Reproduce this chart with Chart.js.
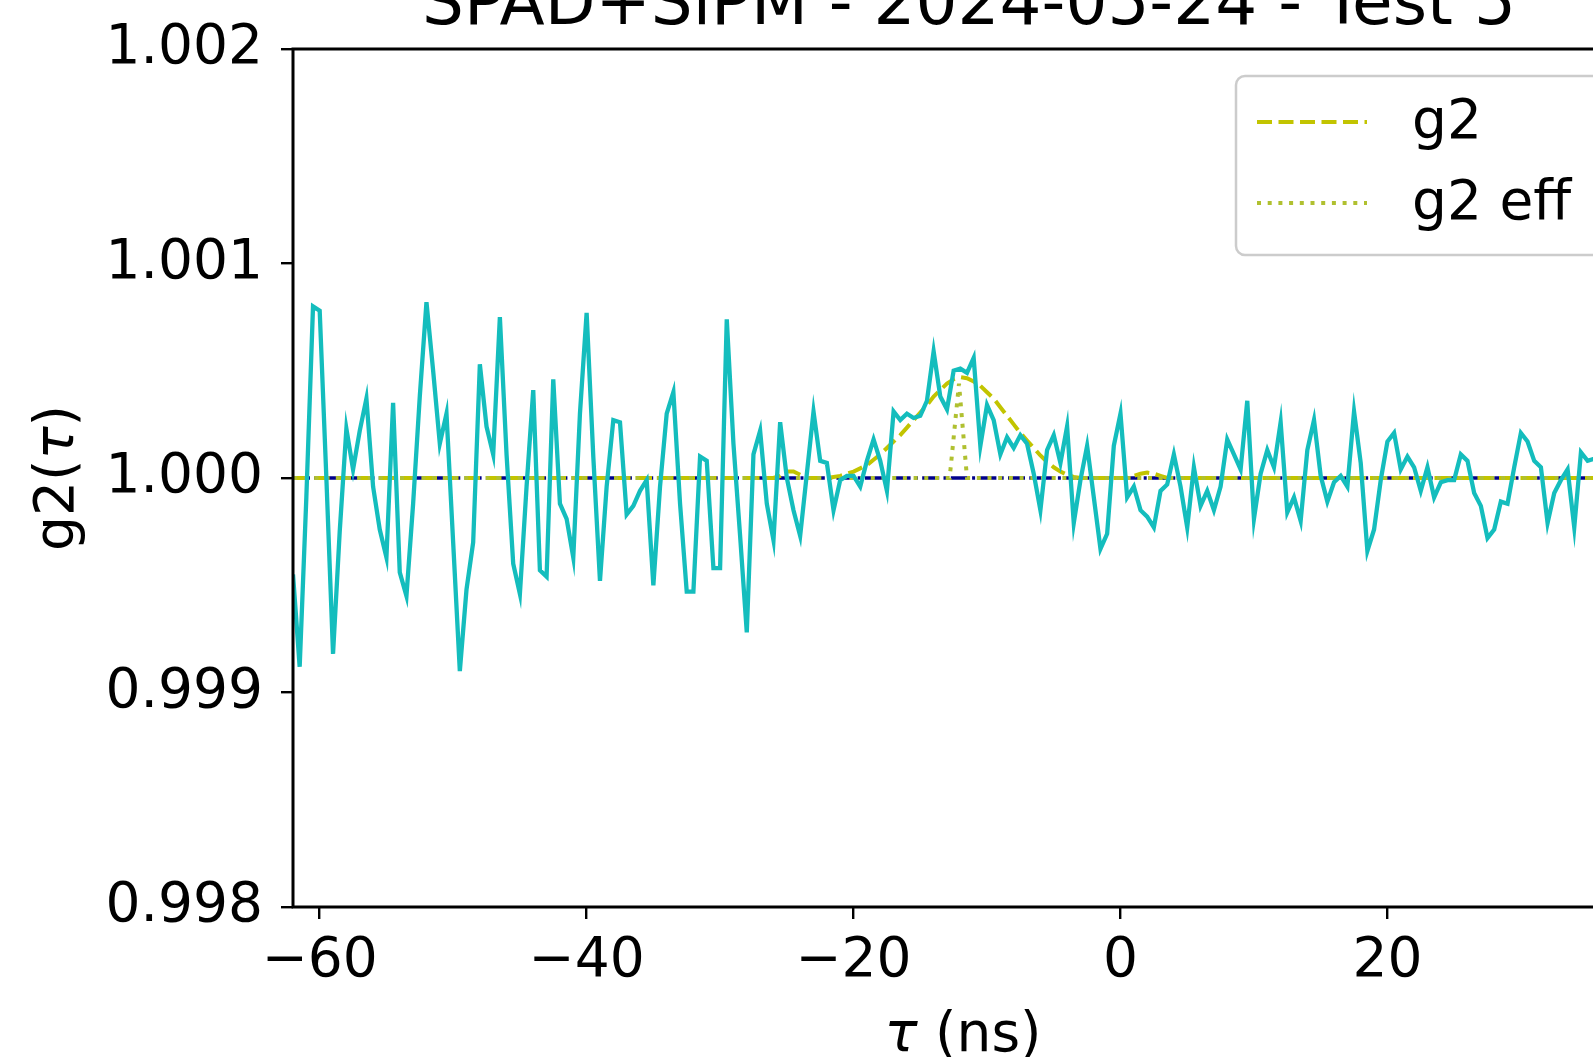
<!DOCTYPE html>
<html>
<head>
<meta charset="utf-8">
<script src="https://cdn.jsdelivr.net/npm/chart.js@4/dist/chart.umd.min.js"></script>
<style>
  html, body { margin: 0; padding: 0; background: #fff; overflow: hidden; }
  #wrap { position: absolute; left: 0; top: -60px; }
</style>
</head>
<body>
<div id="wrap"><canvas id="g2Chart" width="1700" height="1130"></canvas></div>
<script>
// tau in ns, measured g2 values
const tau = [
  -62,-61.5,-61,-60.5,-60,-59.5,-59,-58.5,-58,-57.5,
  -57,-56.5,-56,-55.5,-55,-54.5,-54,-53.5,-53,-52.5,
  -52,-51.5,-51,-50.5,-50,-49.5,-49,-48.5,-48,-47.5,
  -47,-46.5,-46,-45.5,-45,-44.5,-44,-43.5,-43,-42.5,
  -42,-41.5,-41,-40.5,-40,-39.5,-39,-38.5,-38,-37.5,
  -37,-36.5,-36,-35.5,-35,-34.5,-34,-33.5,-33,-32.5,
  -32,-31.5,-31,-30.5,-30,-29.5,-29,-28.5,-28,-27.5,
  -27,-26.5,-26,-25.5,-25,-24.5,-24,-23.5,-23,-22.5,
  -22,-21.5,-21,-20.5,-20,-19.5,-19,-18.5,-18,-17.5,
  -17,-16.5,-16,-15.5,-15,-14.5,-14,-13.5,-13,-12.5,
  -12,-11.5,-11,-10.5,-10,-9.5,-9,-8.5,-8,-7.5,
  -7,-6.5,-6,-5.5,-5,-4.5,-4,-3.5,-3,-2.5,
  -2,-1.5,-1,-0.5,0,0.5,1,1.5,2,2.5,
  3,3.5,4,4.5,5,5.5,6,6.5,7,7.5,
  8,8.5,9,9.5,10,10.5,11,11.5,12,12.5,
  13,13.5,14,14.5,15,15.5,16,16.5,17,17.5,
  18,18.5,19,19.5,20,20.5,21,21.5,22,22.5,
  23,23.5,24,24.5,25,25.5,26,26.5,27,27.5,
  28,28.5,29,29.5,30,30.5,31,31.5,32,32.5,
  33,33.5,34,34.5,35,35.5,36
];
const g2Data = [
  0.99955,0.99912,0.99991,1.00080,1.00078,1.00000,0.99918,0.99975,1.00023,1.00004,
  1.00022,1.00037,0.99996,0.99976,0.99963,1.00035,0.99956,0.99945,0.99988,1.00038,
  1.00082,1.00050,1.00016,1.00030,0.99970,0.99910,0.99948,0.99970,1.00053,1.00024,
  1.00011,1.00075,1.00011,0.99960,0.99946,0.99996,1.00041,0.99957,0.99954,1.00046,
  0.99988,0.99981,0.99963,1.00030,1.00077,1.00010,0.99952,0.99996,1.00027,1.00026,
  0.99983,0.99987,0.99994,0.99999,0.99950,0.99996,1.00030,1.00040,0.99988,0.99947,
  0.99947,1.00010,1.00008,0.99958,0.99958,1.00074,1.00016,0.99973,0.99928,1.00011,
  1.00022,0.99988,0.99971,1.00026,1.00000,0.99985,0.99973,1.00002,1.00031,1.00008,
  1.00007,0.99985,0.99999,1.00001,1.00001,0.99996,1.00008,1.00018,1.00008,0.99994,
  1.00031,1.00027,1.00030,1.00028,1.00029,1.00036,1.00059,1.00038,1.00032,1.00050,
  1.00051,1.00049,1.00056,1.00015,1.00034,1.00027,1.00011,1.00019,1.00014,1.00020,
  1.00016,1.00002,0.99985,1.00013,1.00020,1.00007,1.00024,0.99979,0.99999,1.00015,
  0.99991,0.99967,0.99974,1.00015,1.00030,0.99991,0.99996,0.99985,0.99982,0.99977,
  0.99994,0.99997,1.00011,0.99996,0.99977,1.00005,0.99987,0.99994,0.99985,0.99996,
  1.00018,1.00011,1.00004,1.00036,0.99981,1.00002,1.00013,1.00005,1.00026,0.99984,
  0.99991,0.99980,1.00013,1.00027,1.00001,0.99989,0.99998,1.00001,0.99996,1.00031,
  1.00007,0.99966,0.99976,0.99999,1.00017,1.00021,1.00004,1.00010,1.00005,0.99994,
  1.00005,0.99991,0.99998,0.99999,0.99999,1.00011,1.00008,0.99993,0.99987,0.99972,
  0.99976,0.99989,0.99988,1.00005,1.00021,1.00017,1.00008,1.00005,0.99979,0.99993,
  0.99999,1.00004,0.99977,1.00012,1.00008,1.00009,1.00005
];

// g2 model (dashed)
const g2Tau = [-62,-26,-25.5,-25,-24.5,-24,-23.5,-22,-21.5,-21,-20.5,-20,-19.5,-19,-18.5,-18,-17.5,
  -17,-16.5,-16,-15.5,-15,-14.5,-14,-13.5,-13,-12.5,-12,-11.5,-11,-10.5,-10,-9.5,-9,-8.5,-8,-7.5,
  -7,-6.5,-6,-5.5,-5,-4.5,-4,-3.5,-3,0.5,1,1.5,2,2.5,3,3.5,36];
const g2Model = [1,1,1.00001,1.00003,1.00003,1.000015,1,1,1.000005,1.00001,1.00002,1.00003,1.000045,1.00006,1.000085,1.00011,1.00014,
  1.00017,1.0002,1.000235,1.00027,1.000305,1.00034,1.00038,1.00041,1.00044,1.00046,1.00047,1.000465,1.00045,1.00043,1.0004,1.00037,1.00033,1.00029,1.00025,1.00021,
  1.000175,1.00014,1.000105,1.000075,1.00005,1.00003,1.000015,1.000005,1,1,1.00001,1.00002,1.000025,1.00002,1.00001,1,1];

// g2 eff (dotted)
const effTau = [-62, -12.8, -12.1, -11.5, 36];
const effVal = [1, 1, 1.00044, 1, 1];

// reference level
const baseTau = [-62, 40];
const baseVal = [1, 1];

const xTicks = [-60, -40, -20, 0, 20];
const yTicks = [0.998, 0.999, 1.000, 1.001, 1.002];

const titleText = 'SPAD+SiPM - 2024-05-24 - Test 5';
const legendLabels = ['g2', 'g2 eff'];

const FONT = '"DejaVu Sans"';
const cyan = '#14bdbd';
const g2Color = '#c2c400';
const effColor = '#b0c030';
const baseColor = '#00008b';

function pts(xs, ys) {
  return xs.map((x, i) => ({ x: x, y: ys[i] }));
}

function drawRuns(ctx, runs, x, y, size) {
  let total = 0;
  runs.forEach(r => {
    ctx.font = (r.it ? 'italic ' : '') + size + 'px ' + FONT;
    r.w = ctx.measureText(r.t).width;
    total += r.w;
  });
  let cx = x - total / 2;
  ctx.textAlign = 'left';
  ctx.textBaseline = 'alphabetic';
  runs.forEach(r => {
    ctx.font = (r.it ? 'italic ' : '') + size + 'px ' + FONT;
    ctx.fillText(r.t, cx, y);
    cx += r.w;
  });
}

function roundRect(ctx, x, y, w, h, r) {
  ctx.beginPath();
  ctx.moveTo(x + r, y);
  ctx.arcTo(x + w, y, x + w, y + h, r);
  ctx.arcTo(x + w, y + h, x, y + h, r);
  ctx.arcTo(x, y + h, x, y, r);
  ctx.arcTo(x, y, x + w, y, r);
  ctx.closePath();
}

const decorations = {
  id: 'decorations',
  afterDraw(chart) {
    const { ctx, chartArea: a } = chart;
    ctx.save();
    ctx.strokeStyle = '#000';
    ctx.lineWidth = 3;
    ctx.setLineDash([]);
    ctx.strokeRect(a.left, a.top, a.right - a.left, a.bottom - a.top);

    ctx.fillStyle = '#000';
    ctx.font = '66px ' + FONT;
    ctx.textAlign = 'center';
    ctx.textBaseline = 'alphabetic';
    ctx.fillText(titleText, (a.left + a.right) / 2, a.top - 25);

    // x label
    drawRuns(ctx, [{ t: '\u03c4', it: true }, { t: ' (ns)' }], (a.left + a.right) / 2 - 6, a.bottom + 144, 55);

    // y label
    ctx.save();
    ctx.translate(a.left - 220, (a.top + a.bottom) / 2);
    ctx.rotate(-Math.PI / 2);
    drawRuns(ctx, [{ t: 'g2(' }, { t: '\u03c4', it: true }, { t: ')' }], 0, 0, 55);
    ctx.restore();

    // legend
    roundRect(ctx, 1236, 136, 400, 179, 9);
    ctx.fillStyle = 'rgba(255,255,255,0.8)';
    ctx.fill();
    ctx.strokeStyle = '#cccccc';
    ctx.lineWidth = 2.5;
    ctx.stroke();

    ctx.lineWidth = 4;
    ctx.strokeStyle = g2Color;
    ctx.setLineDash([15, 6.5]);
    ctx.beginPath(); ctx.moveTo(1257, 182); ctx.lineTo(1367, 182); ctx.stroke();
    ctx.strokeStyle = effColor;
    ctx.setLineDash([4, 6.7]);
    ctx.beginPath(); ctx.moveTo(1257, 263); ctx.lineTo(1367, 263); ctx.stroke();
    ctx.setLineDash([]);

    ctx.fillStyle = '#000';
    ctx.font = '55px ' + FONT;
    ctx.textAlign = 'left';
    ctx.textBaseline = 'alphabetic';
    ctx.fillText(legendLabels[0], 1412, 198);
    ctx.fillText(legendLabels[1], 1412, 279);
    ctx.restore();
  }
};

const tickFont = { family: FONT, size: 55 };

new Chart(document.getElementById('g2Chart'), {
  type: 'line',
  data: {
    datasets: [
      { data: pts(tau, g2Data), borderColor: cyan, borderWidth: 4.3 },
      { data: pts(effTau, effVal), borderColor: effColor, borderWidth: 4, borderDash: [4, 6.7] },
      { data: pts(g2Tau, g2Model), borderColor: g2Color, borderWidth: 4, borderDash: [15, 6.5] },
      { data: pts(baseTau, baseVal), borderColor: baseColor, borderWidth: 3.6, borderDash: [17, 4.3, 3, 4.3] }
    ]
  },
  options: {
    responsive: false,
    animation: false,
    layout: { padding: { left: 0, right: 55, top: 109, bottom: 0 } },
    elements: { point: { radius: 0 }, line: { tension: 0, fill: false } },
    plugins: { legend: { display: false }, tooltip: { enabled: false } },
    scales: {
      x: {
        type: 'linear',
        min: -62,
        max: 39.3,
        afterFit: s => { s.height = 163; },
        afterBuildTicks: s => { s.ticks = xTicks.map(v => ({ value: v })); },
        ticks: {
          font: tickFont, color: '#000', padding: 10, maxRotation: 0, autoSkip: false,
          callback: v => (v < 0 ? '\u2212' + Math.abs(v) : String(v))
        },
        grid: { drawOnChartArea: false, drawTicks: true, tickLength: 12, lineWidth: 2.4, color: '#000' },
        border: { display: false }
      },
      y: {
        type: 'linear',
        min: 0.998,
        max: 1.002,
        afterFit: s => { s.width = 293; },
        afterBuildTicks: s => { s.ticks = yTicks.map(v => ({ value: v })); },
        ticks: {
          font: tickFont, color: '#000', padding: 18, autoSkip: false,
          callback: v => v.toFixed(3)
        },
        grid: { drawOnChartArea: false, drawTicks: true, tickLength: 12, lineWidth: 2.4, color: '#000' },
        border: { display: false }
      }
    }
  },
  plugins: [decorations]
});
</script>
</body>
</html>
